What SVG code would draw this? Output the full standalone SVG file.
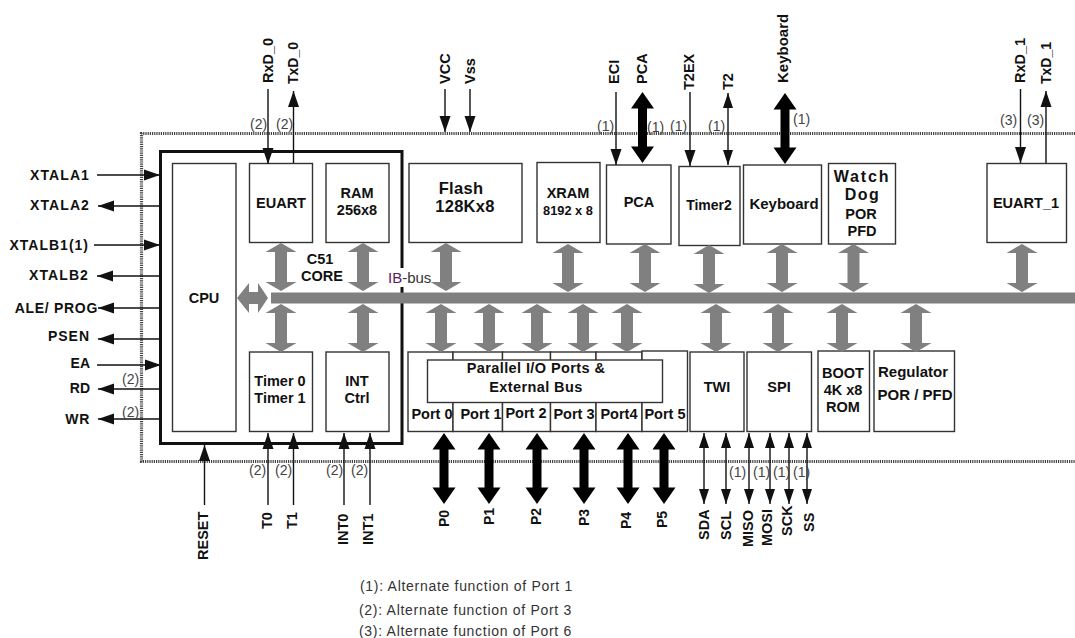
<svg xmlns="http://www.w3.org/2000/svg" width="1075" height="638" viewBox="0 0 1075 638">
<style>
text{font-family:"Liberation Sans",Arial,sans-serif;fill:#111}
.b{font-weight:bold;font-size:14px}
.n{font-weight:bold;font-size:14.500px;text-anchor:middle}
.v{font-weight:bold;font-size:14.500px}
.p{font-size:14px;fill:#444}
.l{font-size:14px;fill:#333;letter-spacing:.7px}
.box{fill:#fff;stroke:#333;stroke-width:1.400}
.w{stroke:#111;stroke-width:1.400;fill:none}
.in{marker-end:url(#h)}
.bi{marker-end:url(#s);marker-start:url(#s2)}
</style>
<defs>
<marker id="h" markerUnits="userSpaceOnUse" markerWidth="17" markerHeight="12" refX="16" refY="6" orient="auto"><path d="M0,0.500L16,6L0,11.500z" fill="#111"/></marker>
<marker id="s" markerUnits="userSpaceOnUse" markerWidth="15" markerHeight="10" refX="15" refY="5" orient="auto"><path d="M0,0L15,5L0,10z" fill="#111"/></marker>
<marker id="s2" markerUnits="userSpaceOnUse" markerWidth="15" markerHeight="10" refX="0" refY="5" orient="auto"><path d="M15,0L0,5L15,10z" fill="#111"/></marker>
<path id="g" d="M0,-24L15.500,-15H6V15H15.500L0,24L-15.500,15H-6V-15H-15.500z" fill="#808080"/>
<path id="k" d="M0,-35.500L11.500,-19H4.500V19H11.500L0,35.500L-11.500,19H-4.500V-19H-11.500z" fill="#000"/>
</defs>

<g id="boundary"><path d="M1075,133.500H141.500V461.500H1075" fill="none" stroke="#444" stroke-width="3.200" stroke-dasharray="1.200 1"/></g>
<g id="core-frame"><path d="M402,268V151.500H160.500V443.500H402V287" fill="none" stroke="#111" stroke-width="3"/></g>

<g id="cpu"><rect class="box" x="172.500" y="163.500" width="63.500" height="268"/><text class="n" x="204" y="303">CPU</text></g>
<g id="euart"><rect class="box" x="249.500" y="163.500" width="63" height="79"/><text class="n" x="281" y="208">EUART</text></g>
<g id="ram"><rect class="box" x="326" y="163.500" width="63" height="79"/><text class="n" x="357" y="198">RAM</text><text class="n" x="357" y="215">256x8</text></g>
<g id="core-label"><text class="n" x="320" y="264">C51</text><text class="n" x="322" y="281">CORE</text></g>
<g id="flash"><rect class="box" x="409" y="163.500" width="113" height="79"/><text class="n" x="461" y="194" style="font-size:16.500px;letter-spacing:.3px">Flash</text><text class="n" x="465" y="212" style="font-size:16.500px;letter-spacing:.3px">128Kx8</text></g>
<g id="xram"><rect class="box" x="537" y="162.500" width="63" height="80"/><text class="n" x="568" y="198">XRAM</text><text class="n" x="568" y="215" style="font-size:12.800px">8192 x 8</text></g>
<g id="pca"><rect class="box" x="606.500" y="165" width="64.500" height="79"/><text class="n" x="639" y="207">PCA</text></g>
<g id="timer2"><rect class="box" x="679" y="166.500" width="61" height="79"/><text class="n" x="709" y="210" style="font-size:14px">Timer2</text></g>
<g id="keyboard"><rect class="box" x="743.500" y="165" width="78" height="79"/><text class="n" x="784" y="209" style="font-size:15px">Keyboard</text></g>
<g id="watchdog"><rect class="box" x="828.500" y="163.500" width="67" height="80.500"/><text class="n" x="862" y="182" style="font-size:16px;letter-spacing:1.800px">Watch</text><text class="n" x="862.500" y="200" style="font-size:16px;letter-spacing:1.500px">Dog</text><text class="n" x="861" y="219">POR</text><text class="n" x="862" y="236">PFD</text></g>
<g id="euart1"><rect class="box" x="987" y="163.500" width="79.500" height="79"/><text class="n" x="1026" y="208">EUART_1</text></g>

<g id="timer01"><rect class="box" x="249.500" y="352" width="63" height="79.500"/><text class="n" x="280" y="386">Timer 0</text><text class="n" x="280" y="403">Timer 1</text></g>
<g id="intctrl"><rect class="box" x="326" y="352" width="63" height="79.500"/><text class="n" x="357" y="386">INT</text><text class="n" x="357" y="403">Ctrl</text></g>

<g id="ports">
<rect class="box" x="408" y="352" width="45" height="79.500"/>
<rect class="box" x="453" y="352" width="49.500" height="79.500"/>
<rect class="box" x="502.500" y="352" width="48" height="79.500"/>
<rect class="box" x="550.500" y="352" width="45.500" height="79.500"/>
<rect class="box" x="596" y="352" width="46" height="79.500"/>
<rect class="box" x="642" y="351" width="45.500" height="80.500"/>
<text class="n" x="432" y="419">Port 0</text><text class="n" x="481" y="419">Port 1</text><text class="n" x="526" y="418">Port 2</text><text class="n" x="574" y="419">Port 3</text><text class="n" x="619" y="419">Port4</text><text class="n" x="665" y="419">Port 5</text>
<rect class="box" x="427.500" y="360" width="235" height="42.500"/>
<text class="n" x="536" y="373" style="letter-spacing:.4px">Parallel I/O Ports &amp;</text><text class="n" x="536" y="392" style="letter-spacing:.4px">External Bus</text>
</g>
<g id="twi"><rect class="box" x="690" y="352" width="54" height="79.500"/><text class="n" x="717" y="392">TWI</text></g>
<g id="spi"><rect class="box" x="747" y="352" width="64.500" height="79.500"/><text class="n" x="779" y="392">SPI</text></g>
<g id="boot"><rect class="box" x="818" y="351" width="51.500" height="80.500"/><text class="n" x="843" y="378">BOOT</text><text class="n" x="843" y="395">4K x8</text><text class="n" x="843" y="412">ROM</text></g>
<g id="regulator"><rect class="box" x="874" y="351" width="80.500" height="80.500"/><text class="n" x="913" y="377" style="font-size:15px">Regulator</text><text class="n" x="915" y="400" style="font-size:15px">POR / PFD</text></g>

<g id="connectors">
<rect x="271" y="292.500" width="804" height="11" fill="#808080"/>
<path d="M237,298L249,283V292H258V283L268,298L258,313V304H249V313z" fill="#808080"/>
<g id="bus-arrows-top">
<use href="#g" x="281" y="267"/><use href="#g" x="363" y="267"/><use href="#g" x="446" y="267"/><use href="#g" x="568" y="268"/><use href="#g" x="645" y="268"/><use href="#g" x="709" y="269"/><use href="#g" x="782" y="268"/><use href="#g" x="853.500" y="268"/><use href="#g" x="1022" y="268"/>
</g>
<g id="bus-arrows-bottom">
<use href="#g" x="281" y="328"/><use href="#g" x="363" y="328"/><use href="#g" x="441" y="328"/><use href="#g" x="489" y="328"/><use href="#g" x="537" y="328"/><use href="#g" x="583" y="328"/><use href="#g" x="627" y="328"/><use href="#g" x="716" y="328"/><use href="#g" x="778" y="328"/><use href="#g" x="842" y="328"/><use href="#g" x="916" y="328"/>
</g>
<g id="thick-arrows">
<use href="#k" x="642.500" y="127.500"/><use href="#k" x="785" y="128.500"/>
<use href="#k" x="444" y="468.500"/><use href="#k" x="489" y="468.500"/><use href="#k" x="537" y="468.500"/><use href="#k" x="584" y="468.500"/><use href="#k" x="628" y="468.500"/><use href="#k" x="664" y="468.500"/>
</g>
<g id="thin-arrows">
<path class="w in" d="M268,89V164"/><path class="w in" d="M293.500,163V91"/>
<path class="w in" d="M445,89V132"/><path class="w in" d="M470,89V132"/>
<path class="w in" d="M616,92V165"/><path class="w in" d="M690,92V166"/>
<path class="w bi" d="M728,93V165"/>
<path class="w in" d="M1020.500,89V163"/><path class="w in" d="M1046,163V91"/>
<path class="w in" d="M97,175H160"/><path class="w in" d="M160,206H98"/><path class="w in" d="M94,245H160"/><path class="w in" d="M160,276H97"/><path class="w in" d="M160,308H98"/><path class="w in" d="M160,339H98"/><path class="w in" d="M97,365H161"/><path class="w in" d="M160,389H98"/><path class="w in" d="M160,419H98"/>
<path class="w in" d="M204.500,505V445"/><path class="w in" d="M268,505V433"/><path class="w in" d="M293.500,505V433"/><path class="w in" d="M344,505V433"/><path class="w in" d="M370,505V433"/>
<path class="w bi" d="M704,433V504"/><path class="w bi" d="M726,433V504"/><path class="w bi" d="M749,433V504"/><path class="w bi" d="M770,433V504"/><path class="w bi" d="M789,433V504"/><path class="w bi" d="M807,433V504"/>
</g>
</g>

<g id="labels">
<text class="b" x="90" y="180" text-anchor="end" style="letter-spacing:1.100px">XTALA1</text>
<text class="b" x="90" y="210" text-anchor="end" style="letter-spacing:1.100px">XTALA2</text>
<text class="b" x="89" y="250" text-anchor="end" style="letter-spacing:1px">XTALB1(1)</text>
<text class="b" x="89" y="280" text-anchor="end" style="letter-spacing:1.100px">XTALB2</text>
<text class="b" x="98" y="313" text-anchor="end" style="letter-spacing:.7px">ALE/ PROG</text>
<text class="b" x="90" y="341" text-anchor="end" style="letter-spacing:1px">PSEN</text>
<text class="b" x="90" y="368" text-anchor="end">EA</text>
<text class="b" x="90" y="393" text-anchor="end">RD</text>
<text class="b" x="90" y="424" text-anchor="end" style="letter-spacing:.7px">WR</text>

<text class="v" transform="translate(273,83) rotate(-90)">RxD_0</text>
<text class="v" transform="translate(298,84) rotate(-90)" style="font-size:14px">TxD_0</text>
<text class="v" transform="translate(450,84) rotate(-90)">VCC</text>
<text class="v" transform="translate(475,84) rotate(-90)">Vss</text>
<text class="v" transform="translate(619,84) rotate(-90)">ECI</text>
<text class="v" transform="translate(647,84) rotate(-90)">PCA</text>
<text class="v" transform="translate(694,90) rotate(-90)">T2EX</text>
<text class="v" transform="translate(733,90) rotate(-90)">T2</text>
<text class="v" transform="translate(788,83) rotate(-90)" style="font-size:15px">Keyboard</text>
<text class="v" transform="translate(1025,83) rotate(-90)">RxD_1</text>
<text class="v" transform="translate(1051,84) rotate(-90)" style="font-size:14px">TxD_1</text>

<text class="v" transform="translate(208,560) rotate(-90)">RESET</text>
<text class="v" transform="translate(272,529) rotate(-90)">T0</text>
<text class="v" transform="translate(297,529) rotate(-90)">T1</text>
<text class="v" transform="translate(348,545) rotate(-90)">INT0</text>
<text class="v" transform="translate(373,545) rotate(-90)">INT1</text>
<text class="v" transform="translate(449,527) rotate(-90)" style="font-size:14px">P0</text>
<text class="v" transform="translate(494,525) rotate(-90)" style="font-size:14px">P1</text>
<text class="v" transform="translate(541,525) rotate(-90)" style="font-size:14px">P2</text>
<text class="v" transform="translate(589,526) rotate(-90)" style="font-size:14px">P3</text>
<text class="v" transform="translate(631,529) rotate(-90)" style="font-size:14px">P4</text>
<text class="v" transform="translate(667,528) rotate(-90)" style="font-size:14px">P5</text>
<text class="v" transform="translate(709,540) rotate(-90)">SDA</text>
<text class="v" transform="translate(731,540) rotate(-90)">SCL</text>
<text class="v" transform="translate(753,547) rotate(-90)">MISO</text>
<text class="v" transform="translate(772,546) rotate(-90)">MOSI</text>
<text class="v" transform="translate(792,536) rotate(-90)">SCK</text>
<text class="v" transform="translate(814,532) rotate(-90)">SS</text>

<text x="388" y="283" font-size="15" style="fill:#333"><tspan style="fill:#602060">IB</tspan>-bus</text>

<text class="p" x="250" y="129">(2)</text><text class="p" x="276" y="129">(2)</text>
<text class="p" x="597" y="131">(1)</text><text class="p" x="647" y="132">(1)</text><text class="p" x="670" y="131">(1)</text><text class="p" x="708" y="131">(1)</text><text class="p" x="793" y="124">(1)</text>
<text class="p" x="1000" y="125">(3)</text><text class="p" x="1027" y="125">(3)</text>
<text class="p" x="122" y="384">(2)</text><text class="p" x="122" y="417">(2)</text>
<text class="p" x="249" y="475">(2)</text><text class="p" x="275" y="475">(2)</text><text class="p" x="326" y="475">(2)</text><text class="p" x="351" y="475">(2)</text>
<text class="p" x="729" y="477">(1)</text><text class="p" x="753" y="477">(1)</text><text class="p" x="773" y="477">(1)</text><text class="p" x="793" y="477">(1)</text>

<text class="l" x="360" y="591">(1): Alternate function of Port 1</text>
<text class="l" x="359" y="615">(2): Alternate function of Port 3</text>
<text class="l" x="359" y="636">(3): Alternate function of Port 6</text>
</g>
</svg>
